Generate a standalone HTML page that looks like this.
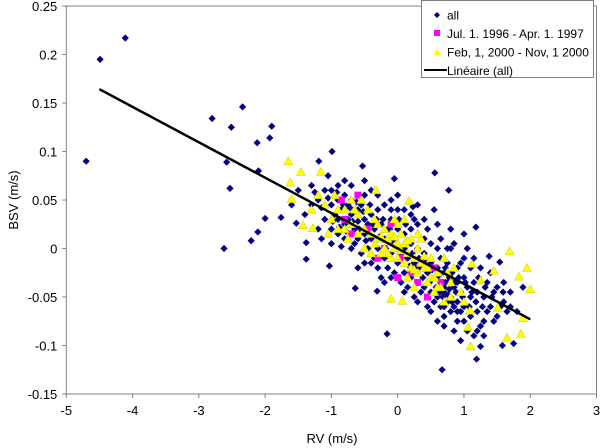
<!DOCTYPE html>
<html><head><meta charset="utf-8"><style>
html,body{margin:0;padding:0;background:#fff;}
svg{display:block;font-family:"Liberation Sans",Arial,sans-serif;}
</style></head><body>
<svg id="chart" width="603" height="448">
<g id="plot"></g>
</svg>
<script>
const xTicks=[-5,-4,-3,-2,-1,0,1,2,3];
const yTicks=[-0.15,-0.1,-0.05,0,0.05,0.1,0.15,0.2,0.25];
const yTickLabels=["-0.15","-0.1","-0.05","0","0.05","0.1","0.15","0.2","0.25"];
const trendSlope=-0.0365;
const trendIntercept=0.0;
const trendRange=[-4.5,2.0];
const allPts=[[-4.49,0.195],[-4.11,0.217],[-4.7,0.09],[-2.8,0.134],[-2.34,0.146],[-2.51,0.125],[-1.9,0.126],[-2.12,0.109],[-1.93,0.114],[-2.58,0.089],[-2.1,0.08],[-2.53,0.062],[-0.99,0.1],[-1.19,0.09],[-0.53,0.085],[-2.0,0.031],[-1.76,0.032],[-2.11,0.017],[-1.53,0.026],[-2.21,0.008],[-2.62,0.0],[-1.38,0.006],[-1.38,-0.011],[-1.03,-0.018],[-0.64,-0.041],[-0.31,-0.044],[0.56,0.078],[0.77,0.06],[-0.05,0.072],[0.23,0.043],[1.18,0.022],[-0.16,-0.088],[0.67,-0.125],[1.19,-0.114],[1.75,-0.098],[1.58,-0.1],[1.25,-0.101],[1.89,-0.04],[1.59,-0.045],[1.54,-0.014],[1.38,-0.008],
[-1.2,0.05],[-1.1,0.06],[-1.1,0.03],[-1.0,0.045],[-1.0,0.02],[-1.0,0.06],[-0.95,0.035],[-0.9,0.05],[-0.9,0.015],[-0.9,0.03],[-0.85,0.04],[-0.8,0.055],[-0.8,0.025],[-0.8,0.01],[-0.75,0.045],[-0.75,0.03],[-0.7,0.035],[-0.7,0.0],[-0.7,0.05],[-0.65,0.02],[-0.6,0.04],[-0.6,0.01],[-0.6,0.028],[-0.55,0.045],[-0.55,-0.005],[-0.5,0.03],[-0.5,0.015],[-0.5,0.055],[-0.45,0.0],[-0.45,0.025],[-0.4,0.035],[-0.4,0.01],[-0.4,-0.015],[-0.35,0.02],[-0.3,0.04],[-0.3,0.0],[-0.3,-0.02],[-0.25,0.025],[-0.2,0.01],[-0.2,-0.01],[-0.2,0.045],[-0.15,0.02],[-0.1,-0.005],[-0.1,0.03],[-0.1,-0.03],[-0.05,0.01],[0.0,0.02],[0.0,-0.015],[0.0,0.04],[0.05,-0.005],[0.1,0.015],[0.1,-0.025],[0.1,0.0],[0.15,-0.01],[0.2,0.02],[0.2,-0.03],[0.2,0.005],[0.25,-0.015],[0.3,0.0],[0.3,-0.035],[0.3,0.025],[0.35,-0.02],[0.4,-0.005],[0.4,-0.04],[0.4,0.01],[0.45,-0.025],[0.5,-0.015],[0.5,-0.045],[0.5,0.005],[0.55,-0.03],[0.6,-0.02],[0.6,-0.05],[0.6,0.0],[0.65,-0.035],[0.65,-0.01],[0.7,-0.025],[0.7,-0.045],[0.7,-0.06],[0.75,-0.015],[0.75,-0.035],[0.8,-0.03],[0.8,-0.05],[0.8,0.0],[0.85,-0.04],[0.9,-0.02],[0.9,-0.055],[0.9,-0.035],[0.95,-0.045],[1.0,-0.03],[1.0,-0.06],[1.0,-0.01],[1.05,-0.04],[1.1,-0.05],[1.1,-0.02],[1.1,-0.07],[1.15,-0.035],[1.2,-0.045],[1.2,-0.065],[1.25,-0.02],[1.3,-0.05],[1.3,-0.075],[1.35,-0.035],[1.4,-0.06],[1.45,-0.045],[1.5,-0.07],[1.6,-0.055],[0.0,0.055],[0.2,0.035],[-0.2,-0.035],[0.4,0.03],[-0.6,-0.02],[-0.8,0.07],[-1.3,0.045],[-1.4,0.035],[-1.3,0.065],[-1.2,0.02],[0.6,0.025],[0.8,0.02],[1.0,0.015],[0.5,-0.065],[0.3,-0.055],[0.1,-0.045],[0.9,-0.075],[0.7,-0.08],[1.2,-0.085],[-0.9,0.065],[-0.4,0.06],[-0.1,0.05],[0.3,0.045],[-1.5,0.06],[-1.6,0.045],[-1.05,0.075],[0.55,0.04],[1.4,-0.025],[1.7,-0.06],[1.8,-0.065],[1.3,-0.09],[0.95,-0.095],[0.6,-0.075],
[-1.25,0.058],[-1.15,0.042],[-1.05,0.052],[-0.98,0.028],[-0.92,0.058],[-0.88,0.022],[-0.82,0.045],[-0.78,0.018],[-0.72,0.042],[-0.68,0.028],[-0.62,0.048],[-0.58,0.02],[-0.52,0.038],[-0.48,0.008],[-0.42,0.045],[-0.38,0.025],[-0.32,0.03],[-0.28,0.012],[-0.22,0.03],[-0.18,0.0],[-0.12,0.02],[-0.08,0.008],[-0.02,0.0],[0.02,0.03],[0.08,-0.01],[0.12,0.025],[0.18,-0.018],[0.22,-0.005],[0.28,-0.02],[0.32,-0.01],[0.38,-0.03],[0.42,-0.012],[0.48,-0.035],[0.52,-0.022],[0.58,-0.04],[0.62,-0.028],[0.68,-0.05],[0.72,-0.035],[0.78,-0.042],[0.82,-0.025],[0.88,-0.045],[0.92,-0.03],[0.98,-0.05],[1.02,-0.035],[1.08,-0.06],[1.12,-0.045],[1.18,-0.055],[1.22,-0.03],[1.28,-0.06],[1.32,-0.04],[1.42,-0.05],[1.5,-0.04],[1.55,-0.06],[1.65,-0.065],[0.7,-0.07],[0.8,-0.065],[0.85,-0.06],[0.75,-0.055],[0.65,-0.06],[0.9,-0.065],[1.0,-0.075],[1.05,-0.085],[0.85,-0.085],[0.55,-0.055],[0.45,-0.06],[0.35,-0.045],[0.25,-0.05],[0.15,-0.04],[0.05,-0.035],[-0.05,-0.025],[-0.15,-0.02],[-0.25,-0.03],[-0.35,-0.01],[-0.5,-0.015],[-0.65,0.005],[-0.85,0.002],[-1.0,0.005],[-1.15,0.01],[-0.1,0.04],[0.1,0.04],[0.25,0.03],[0.45,0.02],[0.65,0.01],[0.85,0.005],[1.05,0.0],[-0.3,0.055],[-0.7,0.065],[-0.5,0.07],[0.75,0.0],[0.95,-0.015],[1.15,-0.01],[0.7,-0.04],[0.78,-0.03],[0.72,-0.02],[0.82,-0.055],[0.68,-0.035],[0.76,-0.048],[0.86,-0.035],[0.64,-0.045],[1.6,-0.035],[1.7,-0.045],[1.45,-0.075],[1.35,-0.065],[1.25,-0.08],[1.15,-0.09],[0.95,-0.065]];
const period1Pts=[[-0.6,0.055],[-0.85,0.05],[-0.8,0.03],[-0.7,0.015],[-0.45,0.02],[-0.2,0.0],[0.05,-0.01],[0.2,-0.025],[0.35,-0.015],[0.55,-0.02],[0.65,-0.035],[0.3,-0.035],[-0.3,-0.01],[0.45,-0.05],[-0.1,0.025],[0.0,-0.03]];
const period2Pts=[[-1.65,0.09],[-1.46,0.079],[-1.16,0.079],[-1.62,0.068],[-1.6,0.051],[-1.43,0.024],[-1.28,0.021],[-0.33,0.06],[0.17,0.049],[-0.1,-0.052],[0.07,-0.054],[1.69,-0.003],[1.95,-0.02],[1.83,-0.029],[2.0,-0.042],[1.86,-0.088],[1.65,-0.092],[1.1,-0.101],[1.06,-0.081],[1.51,-0.061],[1.89,-0.072],[1.09,-0.064],[1.45,-0.023],[1.25,-0.033],[1.12,-0.016],
[-1.3,0.04],[-1.2,0.055],[-1.1,0.045],[-1.0,0.03],[-0.9,0.04],[-0.8,0.02],[-0.8,0.04],[-0.7,0.025],[-0.6,0.035],[-0.6,0.015],[-0.5,0.02],[-0.5,0.0],[-0.45,0.04],[-0.4,0.015],[-0.35,0.005],[-0.3,0.025],[-0.3,0.01],[-0.25,-0.005],[-0.2,0.02],[-0.2,0.0],[-0.15,0.01],[-0.1,0.015],[-0.1,-0.01],[-0.05,0.0],[0.0,0.005],[0.0,-0.01],[0.05,0.015],[0.1,-0.015],[0.1,0.005],[0.15,-0.005],[0.2,-0.02],[0.2,0.01],[0.25,-0.01],[0.3,-0.025],[0.3,0.0],[0.35,-0.015],[0.4,-0.02],[0.45,-0.035],[0.5,-0.01],[0.5,-0.03],[0.6,-0.025],[0.65,-0.04],[0.7,-0.01],[0.8,-0.035],[-0.7,0.05],[-0.55,0.05],[0.1,0.03],[0.25,-0.04],[0.55,-0.045],[-0.9,0.02],[0.0,0.025],[-0.4,-0.005],[0.35,0.01],[0.85,-0.02],
[-0.25,0.012],[-0.15,-0.005],[-0.05,0.012],[0.05,-0.002],[0.15,0.008],[0.25,-0.022],[0.4,-0.008],[0.6,-0.04],[0.7,-0.055],[0.55,-0.03],[-0.35,0.03],[-0.65,0.04],[-0.75,0.01],[-0.05,0.03],[0.15,-0.03],[0.3,0.015],[0.45,-0.02],[0.8,-0.05],[0.75,-0.025],[-1.05,0.015],[-0.95,0.055],[0.95,-0.045],[1.0,-0.055]];

const NS="http://www.w3.org/2000/svg";
const L=66.3,R=596.5,T=6,B=394;
const X0=-5,X1=3,Y0=-0.15,Y1=0.25;
function sx(v){return L+(v-X0)/(X1-X0)*(R-L);}
function sy(v){return B-(v-Y0)/(Y1-Y0)*(B-T);}
const g=document.getElementById('plot');
function mk(tag,attrs,parent){const e=document.createElementNS(NS,tag);for(const k in attrs)e.setAttribute(k,attrs[k]);(parent||g).appendChild(e);return e;}

const frame=mk('rect',{x:L,y:T,width:R-L,height:B-T,fill:'none',stroke:'#808080','stroke-width':1});



xTicks.forEach(t=>{
  const x=sx(t);
  const tk=mk('line',{x1:x,y1:B,x2:x,y2:B+4,stroke:'#808080'});
  
  
  const tx=mk('text',{x:x,y:B+21,'text-anchor':'middle','font-size':13,fill:'#000'});
  tx.textContent=String(t);
  
  
});
yTicks.forEach((t,i)=>{
  const y=sy(t);
  const tk=mk('line',{x1:L-4,y1:y,x2:L,y2:y,stroke:'#808080'});
  
  
  const tx=mk('text',{x:L-9,y:y+5,'text-anchor':'end','font-size':13,fill:'#000'});
  tx.textContent=yTickLabels[i];
  
  
});

allPts.forEach(p=>{
  const x=sx(p[0]),y=sy(p[1]);
  const d=mk('path',{d:`M${x} ${y-3.6}L${x+3.6} ${y}L${x} ${y+3.6}L${x-3.6} ${y}Z`,fill:'#000080'});
  
  
});
period1Pts.forEach(p=>{
  const x=sx(p[0]),y=sy(p[1]);
  const d=mk('rect',{x:x-3.5,y:y-3.5,width:7,height:7,fill:'#ff00ff'});
  
  
});
period2Pts.forEach(p=>{
  const x=sx(p[0]),y=sy(p[1]);
  const d=mk('path',{d:`M${x} ${y-4.5}L${x+4.5} ${y+3.5}L${x-4.5} ${y+3.5}Z`,fill:'#ffff00',stroke:'#c8c800','stroke-width':0.5});
  
  
});

const tl=mk('line',{x1:sx(trendRange[0]),y1:sy(trendIntercept+trendSlope*trendRange[0]),x2:sx(trendRange[1]),y2:sy(trendIntercept+trendSlope*trendRange[1]),stroke:'#000','stroke-width':2.5});


</script>
<svg style="position:absolute;left:0;top:0" width="603" height="448">
<g>
<rect x="421.5" y="0.5" width="172" height="77" fill="#fff" stroke="#808080"/>
<path d="M437 12L440 15L437 18L434 15Z" fill="#000080"/>
<text x="447" y="19.5" font-size="12">all</text>
<rect x="434" y="30" width="6" height="6" fill="#ff00ff"/>
<text x="447" y="38" font-size="12">Jul. 1. 1996 - Apr. 1. 1997</text>
<path d="M437 48.5L440.5 55L433.5 55Z" fill="#ffff00"/>
<text x="447" y="56.5" font-size="12">Feb, 1, 2000 - Nov, 1 2000</text>
<line x1="424" y1="70" x2="447" y2="70" stroke="#000" stroke-width="2"/>
<text x="447" y="75" font-size="12">Linéaire (all)</text>
</g>
<text x="332" y="443" font-size="13" text-anchor="middle" font-family="Liberation Sans, sans-serif">RV (m/s)</text>
<text x="0" y="0" font-size="13" text-anchor="middle" font-family="Liberation Sans, sans-serif" transform="translate(18,200) rotate(-90)">BSV (m/s)</text>
</svg>
</body></html>
